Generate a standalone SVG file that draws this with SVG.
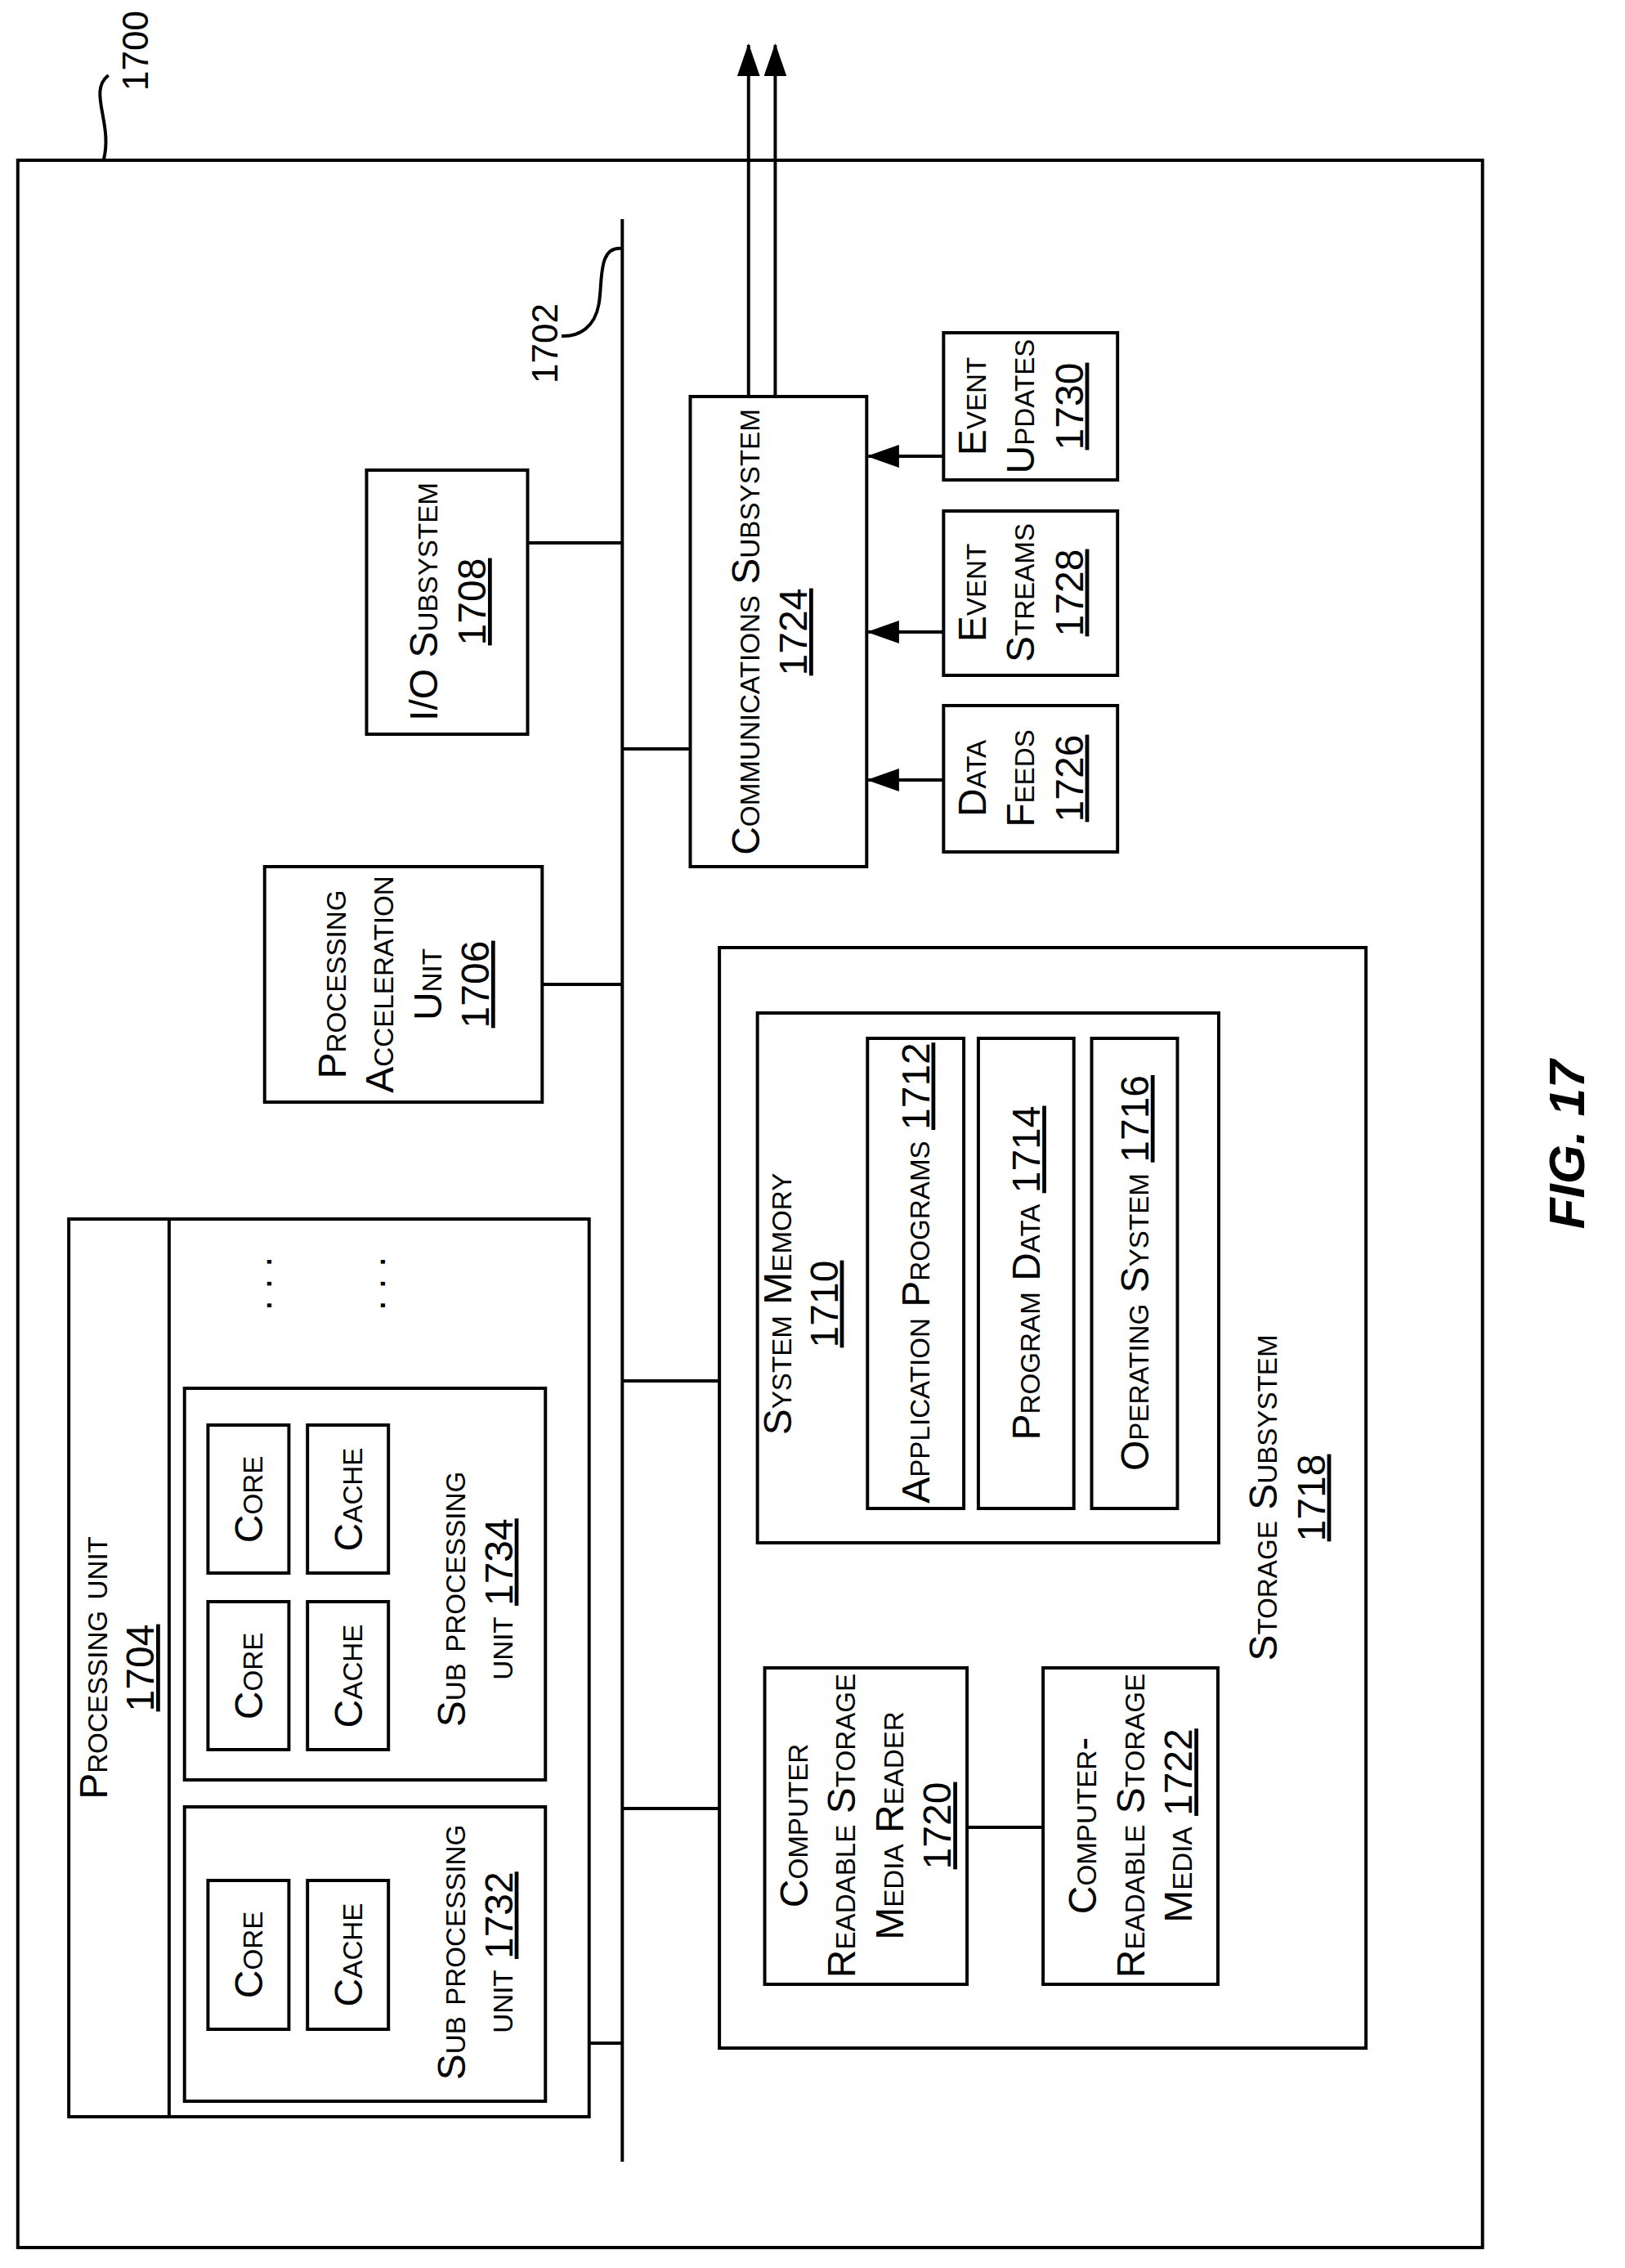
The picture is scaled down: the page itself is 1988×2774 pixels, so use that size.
<svg xmlns="http://www.w3.org/2000/svg" width="1988" height="2774" viewBox="0 0 1988 2774">
<defs>
<style>
rect{fill:none;stroke:#000;stroke-width:4}
.c line,.c path{stroke:#000;stroke-width:4;fill:none}
text{font-family:"Liberation Sans",Arial,sans-serif;font-size:48px;font-variant:small-caps;text-anchor:middle;fill:#000}
.u{text-decoration:underline}
</style>
<marker id="ah2" viewBox="0 0 40 28" refX="38" refY="14" markerWidth="40" markerHeight="28" orient="auto" markerUnits="userSpaceOnUse"><path d="M0,0 L40,14 L0,28 Z" fill="#000"/></marker>
</defs>
<rect x="0" y="0" width="1988" height="2774" style="fill:#fff;stroke:none"/>
<g transform="scale(0.99,1)">
<g id="system1700">
<rect x="22" y="196" width="1810" height="2553"/>
<text transform="translate(183,62) rotate(-90)" style="font-size:44px">1700</text>
</g>
<g class="c" id="connectors">
<path d="M134,92 C108,112 140,150 128,196"/>
<line x1="769" y1="268" x2="769" y2="2644"/>
<path d="M769,304 C738,300 745,345 740,372 C735,400 716,412 694,411"/>
<line x1="652" y1="664" x2="769" y2="664"/>
<line x1="670" y1="1204" x2="769" y2="1204"/>
<line x1="769" y1="916" x2="853" y2="916"/>
<line x1="769" y1="1689" x2="889" y2="1689"/>
<line x1="769" y1="2212" x2="889" y2="2212"/>
<line x1="728" y1="2499" x2="769" y2="2499"/>
<line x1="1195" y1="2235" x2="1289" y2="2235"/>
<line x1="925" y1="485" x2="925" y2="55" marker-end="url(#ah2)"/>
<line x1="958" y1="485" x2="958" y2="55" marker-end="url(#ah2)"/>
<line x1="1166" y1="558" x2="1073" y2="558" marker-end="url(#ah2)"/>
<line x1="1166" y1="773" x2="1073" y2="773" marker-end="url(#ah2)"/>
<line x1="1166" y1="954" x2="1073" y2="954" marker-end="url(#ah2)"/>
</g>
<g id="label1702"><text transform="translate(689,420) rotate(-90)" style="font-size:44px">1702</text></g>
<g id="io1708">
<rect x="453" y="575" width="199" height="323"/>
<text transform="translate(540,736) rotate(-90)"><tspan x="0">I/O Subsystem</tspan><tspan x="0" dy="60" class="u">1708</tspan></text>
</g>
<g id="pa1706">
<rect x="327" y="1060" width="343" height="288"/>
<text transform="translate(427,1204) rotate(-90)"><tspan x="0">Processing</tspan><tspan x="0" dy="59">Acceleration</tspan><tspan x="0" dy="59">Unit</tspan><tspan x="0" dy="59" class="u">1706</tspan></text>
</g>
<g id="comm1724">
<rect x="853" y="485" width="218" height="575"/>
<text transform="translate(938,773) rotate(-90)"><tspan x="0">Communications Subsystem</tspan><tspan x="0" dy="59" class="u">1724</tspan></text>
</g>
<g id="eu1730">
<rect x="1166" y="407" width="215" height="180"/>
<text transform="translate(1218,497) rotate(-90)"><tspan x="0">Event</tspan><tspan x="0" dy="60">Updates</tspan><tspan x="0" dy="60" class="u">1730</tspan></text>
</g>
<g id="es1728">
<rect x="1166" y="625" width="215" height="201"/>
<text transform="translate(1218,725) rotate(-90)"><tspan x="0">Event</tspan><tspan x="0" dy="60">Streams</tspan><tspan x="0" dy="60" class="u">1728</tspan></text>
</g>
<g id="df1726">
<rect x="1166" y="863" width="215" height="179"/>
<text transform="translate(1218,952) rotate(-90)"><tspan x="0">Data</tspan><tspan x="0" dy="60">Feeds</tspan><tspan x="0" dy="60" class="u">1726</tspan></text>
</g>
<g id="storage1718">
<rect x="889" y="1159" width="799" height="1346"/>
<text transform="translate(1578,1832) rotate(-90)"><tspan x="0">Storage Subsystem</tspan><tspan x="0" dy="59" class="u">1718</tspan></text>
</g>
<g id="sysmem1710">
<rect x="936" y="1239" width="570" height="648"/>
<text transform="translate(978,1595) rotate(-90)"><tspan x="0">System Memory</tspan><tspan x="0" dy="57" class="u">1710</tspan></text>
</g>
<g id="app1712">
<rect x="1072" y="1270" width="119" height="575"/>
<text transform="translate(1148,1557) rotate(-90)">Application Programs <tspan class="u">1712</tspan></text>
</g>
<g id="pd1714">
<rect x="1209" y="1270" width="118" height="575"/>
<text transform="translate(1285,1557) rotate(-90)">Program Data <tspan class="u">1714</tspan></text>
</g>
<g id="os1716">
<rect x="1349" y="1270" width="106" height="575"/>
<text transform="translate(1419,1557) rotate(-90)">Operating System  <tspan class="u">1716</tspan></text>
</g>
<g id="crsmr1720">
<rect x="945" y="2040" width="250" height="387"/>
<text transform="translate(998,2233) rotate(-90)"><tspan x="0">Computer</tspan><tspan x="0" dy="59">Readable Storage</tspan><tspan x="0" dy="59">Media Reader</tspan><tspan x="0" dy="59" class="u">1720</tspan></text>
</g>
<g id="crsm1722">
<rect x="1289" y="2040" width="216" height="387"/>
<text transform="translate(1355,2233) rotate(-90)"><tspan x="0">Computer-</tspan><tspan x="0" dy="59">Readable Storage</tspan><tspan x="0" dy="59">Media <tspan class="u">1722</tspan></tspan></text>
</g>
<g id="pu1704">
<rect x="85" y="1491" width="643" height="1098"/>
<line x1="209" y1="1491" x2="209" y2="2589" stroke="#000" stroke-width="4"/>
<text transform="translate(132,2040) rotate(-90)"><tspan x="0">Processing unit</tspan><tspan x="0" dy="58" class="u">1704</tspan></text>
<text transform="translate(335,1570) rotate(-90)">. . .</text>
<text transform="translate(476,1570) rotate(-90)">. . .</text>
</g>
<g id="spu1734">
<rect x="228" y="1698" width="446" height="479"/>
<rect x="257" y="1743" width="100" height="181"/>
<rect x="380" y="1743" width="100" height="181"/>
<rect x="257" y="1959" width="100" height="181"/>
<rect x="380" y="1959" width="100" height="181"/>
<text transform="translate(324,1834) rotate(-90)">Core</text>
<text transform="translate(447,1834) rotate(-90)">Cache</text>
<text transform="translate(324,2050) rotate(-90)">Core</text>
<text transform="translate(447,2050) rotate(-90)">Cache</text>
<text transform="translate(575,1956) rotate(-90)"><tspan x="0">Sub processing</tspan><tspan x="0" dy="58">unit <tspan class="u">1734</tspan></tspan></text>
</g>
<g id="spu1732">
<rect x="228" y="2210" width="446" height="360"/>
<rect x="257" y="2300" width="100" height="182"/>
<rect x="380" y="2300" width="100" height="182"/>
<text transform="translate(324,2391) rotate(-90)">Core</text>
<text transform="translate(447,2391) rotate(-90)">Cache</text>
<text transform="translate(575,2388) rotate(-90)"><tspan x="0">Sub processing</tspan><tspan x="0" dy="58">unit <tspan class="u">1732</tspan></tspan></text>
</g>
<g id="fig"><text transform="translate(1958,1400) rotate(-90)" style="font-size:62px;font-weight:bold;font-style:italic;font-variant:normal">FIG. 17</text></g>
</g>
</svg>
